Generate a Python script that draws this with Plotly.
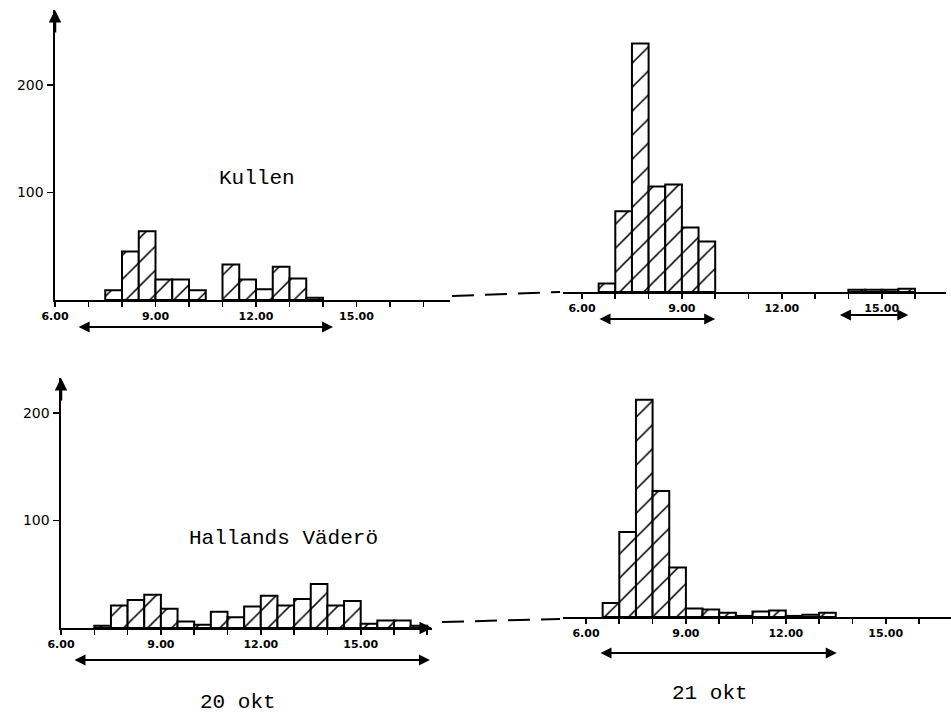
import plotly.graph_objects as go

W, H = 951, 714

# ---------------- data (half-hour bins, start hour) ----------------
kullen_20_bins = [7.5, 8.0, 8.5, 9.0, 9.5, 10.0, 11.0, 11.5, 12.0, 12.5, 13.0, 13.5]
kullen_20_counts = [9, 45, 64, 19, 19, 9, 33, 19, 10, 31, 20, 2]

kullen_21_bins = [6.5, 7.0, 7.5, 8.0, 8.5, 9.0, 9.5, 14.0, 14.5, 15.0, 15.5]
kullen_21_counts = [8, 75, 231, 98, 100, 60, 47, 2, 2, 2, 3]

hallands_20_bins = [7.0, 7.5, 8.0, 8.5, 9.0, 9.5, 10.0, 10.5, 11.0, 11.5,
                    12.0, 12.5, 13.0, 13.5, 14.0, 14.5, 15.0, 15.5, 16.0, 16.5]
hallands_20_counts = [2, 21, 26, 31, 18, 6, 3, 15, 10, 20,
                      30, 21, 27, 41, 21, 25, 4, 7, 7, 2]

hallands_21_bins = [6.5, 7.0, 7.5, 8.0, 8.5, 9.0, 9.5, 10.0, 10.5, 11.0, 11.5, 12.0, 12.5, 13.0]
hallands_21_counts = [13, 79, 202, 117, 46, 8, 7, 4, 1, 5, 6, 1, 2, 4]

# observation periods (hours) shown as double arrows
kullen_20_periods = [[6.66, 14.3]]
kullen_21_periods = [[6.48, 10.0], [13.7, 15.8]]
hallands_20_periods = [[6.36, 17.08]]
hallands_21_periods = [[6.39, 13.53]]

hour_ticks = [6, 7, 8, 9, 10, 11, 12, 13, 14, 15, 16, 17]
labelled_hours = {6: "6.00", 9: "9.00", 12: "12.00", 15: "15.00"}
count_ticks = [100, 200]

station_labels = ["Kullen", "Hallands Väderö"]
date_labels = ["20 okt", "21 okt"]

# ---------------- panel geometry (pixels) ----------------
PY = 1.076  # px per bird
panels = [
    dict(bins=kullen_20_bins, counts=kullen_20_counts, periods=kullen_20_periods,
         origin=55, xs=55, xe=450, pxh=33.5, base=300, top=10, showy=True, arr_y=[327], end_arrow=False),
    dict(bins=kullen_21_bins, counts=kullen_21_counts, periods=kullen_21_periods,
         origin=582, xs=563, xe=946, pxh=33.3, base=292, top=12, showy=False, arr_y=[319, 315], end_arrow=False),
    dict(bins=hallands_20_bins, counts=hallands_20_counts, periods=hallands_20_periods,
         origin=61, xs=61, xe=432, pxh=33.3, base=628, top=378, showy=True, arr_y=[660], end_arrow=True),
    dict(bins=hallands_21_bins, counts=hallands_21_counts, periods=hallands_21_periods,
         origin=586, xs=563, xe=951, pxh=33.3, base=617, top=370, showy=False, arr_y=[653], end_arrow=False),
]

fig = go.Figure()
annotations = []
layout_axes = {}

tickfont = dict(family="DejaVu Sans", size=11, color="black", weight="bold")

for i, p in enumerate(panels, start=1):
    xa = "x" if i == 1 else f"x{i}"
    ya = "y" if i == 1 else f"y{i}"
    xkey = "xaxis" if i == 1 else f"xaxis{i}"
    ykey = "yaxis" if i == 1 else f"yaxis{i}"
    xmin = 6 + (p["xs"] - p["origin"]) / p["pxh"]
    xmax = 6 + (p["xe"] - p["origin"]) / p["pxh"]
    ymax = (p["base"] - p["top"]) / PY

    fig.add_trace(go.Bar(
        x=p["bins"], y=p["counts"], width=0.5, offset=0,
        xaxis=xa, yaxis=ya,
        marker=dict(color="white",
                    line=dict(color="black", width=2),
                    pattern=dict(shape="/", fgcolor="black", bgcolor="white",
                                 fgopacity=1, size=17, solidity=0.09,
                                 fillmode="overlay")),
        showlegend=False, hoverinfo="skip",
    ))

    ticks_in_range = [h for h in hour_ticks if xmin - 1e-6 <= h <= xmax + 1e-6]
    layout_axes[xkey] = dict(
        domain=[p["xs"] / W, p["xe"] / W], range=[xmin, xmax], anchor=ya,
        automargin=False,
        showline=True, linecolor="black", linewidth=2.2, mirror=False,
        ticks="outside", ticklen=5, tickwidth=1.6, tickcolor="black",
        tickvals=ticks_in_range,
        ticktext=[labelled_hours.get(h, "") for h in ticks_in_range],
        tickfont=tickfont, showgrid=False, zeroline=False, fixedrange=True,
    )
    layout_axes[ykey] = dict(
        domain=[1 - p["base"] / H, 1 - p["top"] / H], range=[0, ymax], anchor=xa,
        automargin=False,
        visible=p["showy"], showline=True, linecolor="black", linewidth=2.5,
        ticks="outside", ticklen=6, tickwidth=1.6, tickcolor="black",
        tickvals=count_ticks, ticktext=[str(v) for v in count_ticks],
        tickfont=dict(family="DejaVu Sans", size=14, color="black"),
        showgrid=False, zeroline=False, fixedrange=True,
    )

    # y axis arrow head
    if p["showy"]:
        annotations.append(dict(x=xmin, y=ymax, xref=xa, yref=ya, ax=0, ay=24,
                                axref="pixel", ayref="pixel", text="", showarrow=True,
                                arrowhead=2, arrowsize=1, arrowwidth=2.5, arrowcolor="black"))
    if p["end_arrow"]:
        annotations.append(dict(x=xmax, y=0, xref=xa, yref=ya, ax=-18, ay=0,
                                axref="pixel", ayref="pixel", text="", showarrow=True,
                                arrowhead=2, arrowsize=1, arrowwidth=2.5, arrowcolor="black"))

    # observation period double arrows (below the axis, in paper y)
    for (a, b), ypx in zip(p["periods"], p["arr_y"]):
        annotations.append(dict(x=b, y=1 - ypx / H, xref=xa, yref="paper",
                                ax=a, ay=0, axref=xa, ayref="pixel",
                                text="", showarrow=True,
                                arrowhead=2, startarrowhead=2, arrowside="end+start",
                                arrowsize=1, startarrowsize=1,
                                arrowwidth=2.2, arrowcolor="black"))

# text labels
label_font = dict(family="Liberation Mono", size=21, color="black")
text_items = [
    (station_labels[0], 257, 178),
    (station_labels[1], 283, 538),
    (date_labels[0], 238, 702),
    (date_labels[1], 710, 693),
]
for txt, px, py in text_items:
    annotations.append(dict(x=px / W, y=1 - py / H, xref="paper", yref="paper",
                            text=txt, showarrow=False, font=label_font,
                            xanchor="center", yanchor="middle"))

# dashed connectors between the two days
shapes = [
    dict(type="line", xref="paper", yref="paper",
         x0=452 / W, x1=560 / W, y0=1 - 296 / H, y1=1 - 292 / H,
         line=dict(color="black", width=2, dash="22px,11px")),
    dict(type="line", xref="paper", yref="paper",
         x0=442 / W, x1=560 / W, y0=1 - 622 / H, y1=1 - 619 / H,
         line=dict(color="black", width=2, dash="22px,11px")),
]

fig.update_layout(
    width=W, height=H,
    margin=dict(l=0, r=0, t=0, b=0, pad=0, autoexpand=False),
    paper_bgcolor="white", plot_bgcolor="rgba(0,0,0,0)",
    annotations=annotations, shapes=shapes,
    showlegend=False,
    **layout_axes,
)

fig.write_html("out.html", config={"displayModeBar": False, "staticPlot": True},
               post_script="document.body.style.margin='0';")
